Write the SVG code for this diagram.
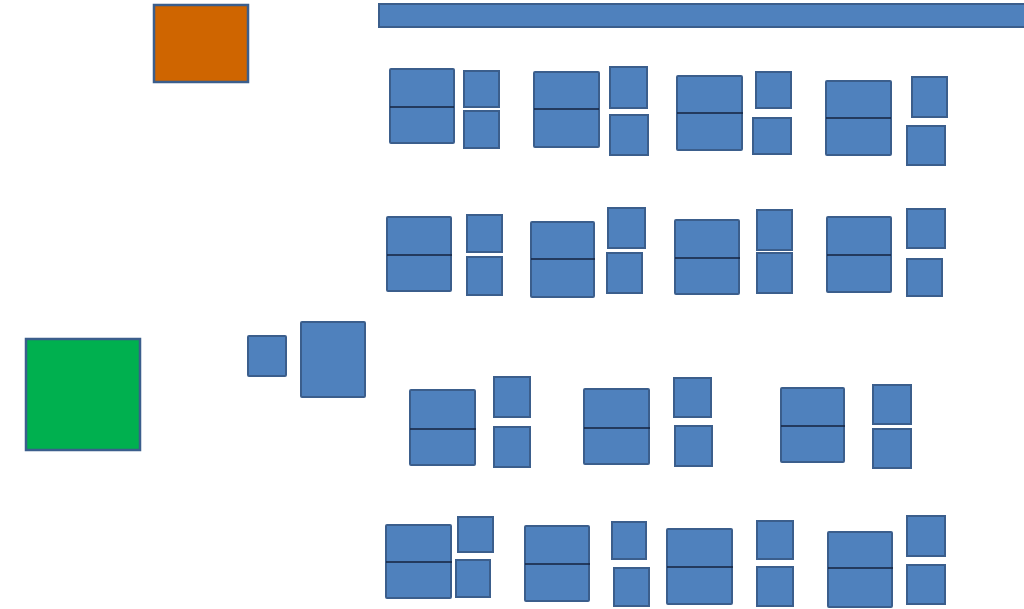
<svg xmlns="http://www.w3.org/2000/svg" width="1024" height="609" viewBox="0 0 1024 609">
<style>
.b{fill:#4f81bd;stroke:#3b5e8c;stroke-width:2}
.d{stroke:#14233f;stroke-width:1.6}
.o{fill:#cf6500;stroke:#3b5e8c;stroke-width:2.5}
.g{fill:#00b04f;stroke:#3b5e8c;stroke-width:2.5}
</style>
<rect width="1024" height="609" fill="#ffffff"/>
<g id="orange"><rect class="o" x="154" y="5" width="94" height="77"/></g>
<g id="topbar"><rect class="b" x="379" y="4" width="650" height="23"/></g>
<g id="green"><rect class="g" x="26" y="339" width="114" height="111"/></g>
<g id="mid-small"><rect class="b" x="248" y="336" width="38" height="40" rx="1"/></g>
<g id="mid-big"><rect class="b" x="301" y="322" width="64" height="75" rx="1"/></g>

<g id="r1c1"><rect class="b" x="390" y="69" width="64" height="74" rx="1"/><line class="d" x1="390" y1="107" x2="454" y2="107"/><rect class="b" x="464" y="71" width="35" height="36"/><rect class="b" x="464" y="111" width="35" height="37"/></g>
<g id="r1c2"><rect class="b" x="534" y="72" width="65" height="75" rx="1"/><line class="d" x1="534" y1="109" x2="599" y2="109"/><rect class="b" x="610" y="67" width="37" height="41"/><rect class="b" x="610" y="115" width="38" height="40"/></g>
<g id="r1c3"><rect class="b" x="677" y="76" width="65" height="74" rx="1"/><line class="d" x1="677" y1="113" x2="743" y2="113"/><rect class="b" x="756" y="72" width="35" height="36"/><rect class="b" x="753" y="118" width="38" height="36"/></g>
<g id="r1c4"><rect class="b" x="826" y="81" width="65" height="74" rx="1"/><line class="d" x1="826" y1="118" x2="891" y2="118"/><rect class="b" x="912" y="77" width="35" height="40"/><rect class="b" x="907" y="126" width="38" height="39"/></g>

<g id="r2c1"><rect class="b" x="387" y="217" width="64" height="74" rx="1"/><line class="d" x1="387" y1="255" x2="452" y2="255"/><rect class="b" x="467" y="215" width="35" height="37"/><rect class="b" x="467" y="257" width="35" height="38"/></g>
<g id="r2c2"><rect class="b" x="531" y="222" width="63" height="75" rx="1"/><line class="d" x1="531" y1="259" x2="595" y2="259"/><rect class="b" x="608" y="208" width="37" height="40"/><rect class="b" x="607" y="253" width="35" height="40"/></g>
<g id="r2c3"><rect class="b" x="675" y="220" width="64" height="74" rx="1"/><line class="d" x1="675" y1="258" x2="740" y2="258"/><rect class="b" x="757" y="210" width="35" height="40"/><rect class="b" x="757" y="253" width="35" height="40"/></g>
<g id="r2c4"><rect class="b" x="827" y="217" width="64" height="75" rx="1"/><line class="d" x1="827" y1="255" x2="891" y2="255"/><rect class="b" x="907" y="209" width="38" height="39"/><rect class="b" x="907" y="259" width="35" height="37"/></g>

<g id="r3c1"><rect class="b" x="410" y="390" width="65" height="75" rx="1"/><line class="d" x1="410" y1="429" x2="476" y2="429"/><rect class="b" x="494" y="377" width="36" height="40"/><rect class="b" x="494" y="427" width="36" height="40"/></g>
<g id="r3c2"><rect class="b" x="584" y="389" width="65" height="75" rx="1"/><line class="d" x1="584" y1="428" x2="650" y2="428"/><rect class="b" x="674" y="378" width="37" height="39"/><rect class="b" x="675" y="426" width="37" height="40"/></g>
<g id="r3c3"><rect class="b" x="781" y="388" width="63" height="74" rx="1"/><line class="d" x1="781" y1="426" x2="845" y2="426"/><rect class="b" x="873" y="385" width="38" height="39"/><rect class="b" x="873" y="429" width="38" height="39"/></g>

<g id="r4c1"><rect class="b" x="386" y="525" width="65" height="73" rx="1"/><line class="d" x1="386" y1="562" x2="452" y2="562"/><rect class="b" x="458" y="517" width="35" height="35"/><rect class="b" x="456" y="560" width="34" height="37"/></g>
<g id="r4c2"><rect class="b" x="525" y="526" width="64" height="75" rx="1"/><line class="d" x1="525" y1="564" x2="590" y2="564"/><rect class="b" x="612" y="522" width="34" height="37"/><rect class="b" x="614" y="568" width="35" height="38"/></g>
<g id="r4c3"><rect class="b" x="667" y="529" width="65" height="75" rx="1"/><line class="d" x1="667" y1="567" x2="733" y2="567"/><rect class="b" x="757" y="521" width="36" height="38"/><rect class="b" x="757" y="567" width="36" height="39"/></g>
<g id="r4c4"><rect class="b" x="828" y="532" width="64" height="75" rx="1"/><line class="d" x1="828" y1="568" x2="893" y2="568"/><rect class="b" x="907" y="516" width="38" height="40"/><rect class="b" x="907" y="565" width="38" height="39"/></g>
<g id="connectors"></g>
</svg>
